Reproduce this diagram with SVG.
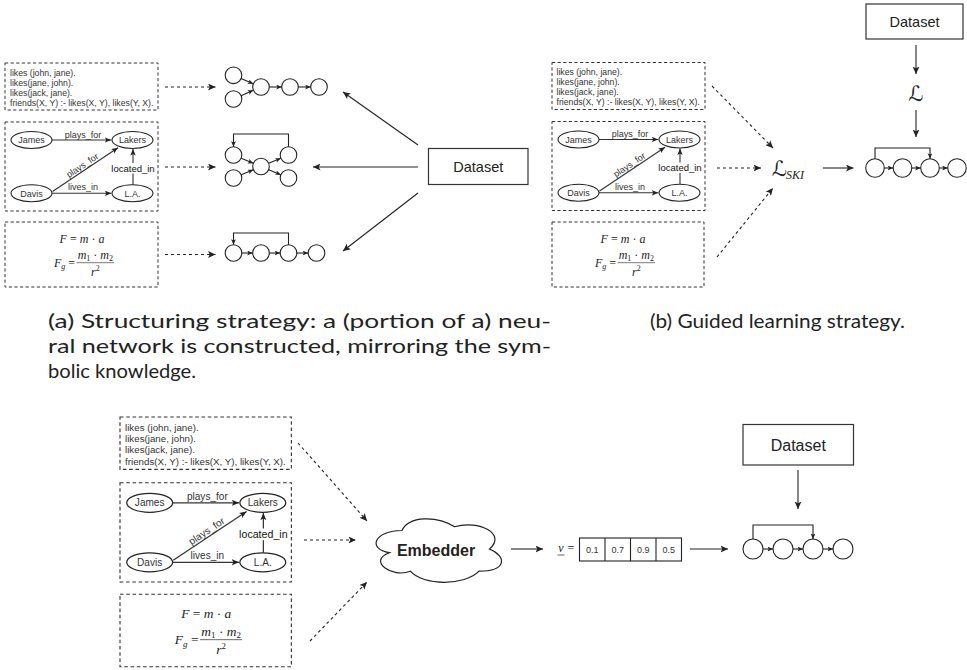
<svg xmlns="http://www.w3.org/2000/svg" width="967" height="670" viewBox="0 0 967 670">
<style>
.box{fill:none;stroke:#333;stroke-width:1;stroke-dasharray:3.2 2.4}
.t{font-family:"Liberation Sans",Arial,sans-serif;font-size:8.7px;fill:#333}
.n{font-family:"Liberation Sans",Arial,sans-serif;font-size:9px;fill:#333;text-anchor:middle}
.ell{fill:#fff;stroke:#222;stroke-width:1.1}
.e{fill:none;stroke:#333;stroke-width:1.1}
.m{font-family:"Liberation Serif","Times New Roman",serif;font-size:12px;fill:#222}
.mid{text-anchor:middle}
.i{font-style:italic}
.nc{fill:#fff;stroke:#222;stroke-width:1.1}
.c{fill:none;stroke:#222;stroke-width:1.1}
.d{fill:none;stroke:#222;stroke-width:1.1;stroke-dasharray:3 3}
.ds{fill:#fff;stroke:#333;stroke-width:1.2}
.dst{font-family:"Liberation Sans",Arial,sans-serif;font-size:14.5px;text-anchor:middle;fill:#222}
.cap{font-family:"Linux Biolinum O","Linux Biolinum",Lato,sans-serif;font-size:20px;fill:#222}
.cal{font-family:"DejaVu Serif","DejaVu Sans",serif;fill:#222}
.vec{font-family:"Liberation Sans",Arial,sans-serif;font-size:9px;fill:#333;text-anchor:middle}
</style>
<defs>
<marker id="ah" markerUnits="userSpaceOnUse" markerWidth="8" markerHeight="7" refX="7.5" refY="3.5" orient="auto"><path d="M0,0 L7.5,3.5 L0,7 L1.8,3.5 z" fill="#222"/></marker>
<marker id="as" markerUnits="userSpaceOnUse" markerWidth="6" markerHeight="5" refX="5.5" refY="2.4" orient="auto"><path d="M0,0 L5.5,2.4 L0,4.8 L1.3,2.4 z" fill="#222"/></marker>
<marker id="ak" markerUnits="userSpaceOnUse" markerWidth="7" markerHeight="6" refX="6.5" refY="2.7" orient="auto"><path d="M0,0 L6.5,2.7 L0,5.4 L1.5,2.7 z" fill="#222"/></marker>
</defs>
<rect width="967" height="670" fill="#fff"/>

<!-- ===== Panel (a) knowledge boxes ===== -->
<g id="a-logic" transform="translate(5,63)">
 <rect class="box" x="0" y="0" width="153" height="47"/>
 <text class="t" x="5" y="12.5">likes (john, jane).</text>
 <text class="t" x="5" y="22.6">likes(jane, john).</text>
 <text class="t" x="5" y="32.7">likes(jack, jane).</text>
 <text class="t" x="5" y="42.8">friends(X, Y) :- likes(X, Y), likes(Y, X).</text>
</g>
<g id="a-kg" transform="translate(5,122)">
 <rect class="box" x="0" y="0" width="153" height="89"/>
 <path class="e" d="M47,18 H106.3" marker-end="url(#ak)"/>
 <path class="e" d="M47.5,69.5 L113,25.7" marker-end="url(#ak)"/>
 <path class="e" d="M47,71.3 H106.3" marker-end="url(#ak)"/>
 <path class="e" d="M128,62.8 V27" marker-end="url(#ak)"/>
 <rect x="105" y="41" width="46" height="10.5" fill="#fff"/>
 <text class="n" x="128" y="49.5" style="font-size:9.5px;fill:#111">located_in</text>
 <text class="n" x="78" y="15.5">plays_for</text>
 <text class="n" transform="translate(79.1,45.9) rotate(-33.8)">plays_for</text>
 <text class="n" x="78" y="68.3">lives_in</text>
 <g id="a-kg-james"><ellipse class="ell" cx="26.5" cy="18" rx="20.5" ry="8.5"/><text class="n" x="26.5" y="21.2">James</text></g>
 <g id="a-kg-lakers"><ellipse class="ell" cx="127.5" cy="18" rx="20.5" ry="8.5"/><text class="n" x="127.5" y="21.2">Lakers</text></g>
 <g id="a-kg-davis"><ellipse class="ell" cx="26.5" cy="71.3" rx="20.5" ry="8.5"/><text class="n" x="26.5" y="74.5">Davis</text></g>
 <g id="a-kg-la"><ellipse class="ell" cx="127.5" cy="71.3" rx="20.5" ry="8.5"/><text class="n" x="127.5" y="74.5">L.A.</text></g>
</g>
<g id="a-phys" transform="translate(5,222)">
 <rect class="box" x="0" y="0" width="153" height="65"/>
 <text class="m mid" x="77" y="21" font-size="13"><tspan class="i">F</tspan> = <tspan class="i">m</tspan> · <tspan class="i">a</tspan></text>
 <text class="m" x="49" y="44.5"><tspan class="i">F</tspan><tspan class="i" font-size="8" dy="2.5">g</tspan><tspan dy="-2.5"> =</tspan></text>
 <line x1="71.5" y1="40.7" x2="109" y2="40.7" stroke="#222" stroke-width="0.6"/>
 <text class="m mid" x="90.3" y="37"><tspan class="i">m</tspan><tspan font-size="8" dy="2">1</tspan><tspan dy="-2"> · </tspan><tspan class="i">m</tspan><tspan font-size="8" dy="2">2</tspan></text>
 <text class="m mid" x="90.3" y="54"><tspan class="i">r</tspan><tspan font-size="8" dy="-5">2</tspan></text>
</g>

<!-- Panel (a) networks -->
<g id="a-net1">
 <circle class="nc" cx="233.5" cy="75.3" r="8.3"/><circle class="nc" cx="233.5" cy="99" r="8.3"/>
 <circle class="nc" cx="261" cy="87" r="8.3"/><circle class="nc" cx="290" cy="87" r="8.3"/><circle class="nc" cx="319" cy="87" r="8.3"/>
</g>
<g id="a-net2">
 <circle class="nc" cx="233.5" cy="155" r="8.3"/><circle class="nc" cx="233.5" cy="178" r="8.3"/>
 <circle class="nc" cx="261" cy="166.5" r="8.3"/><circle class="nc" cx="288.5" cy="155" r="8.3"/><circle class="nc" cx="288.5" cy="178" r="8.3"/>
</g>
<g id="a-net3">
 <circle class="nc" cx="233.5" cy="253" r="8.3"/><circle class="nc" cx="261" cy="253" r="8.3"/>
 <circle class="nc" cx="288.5" cy="253" r="8.3"/><circle class="nc" cx="316.5" cy="253" r="8.3"/>
</g>
<g id="a-dataset">
 <rect class="ds" x="428.5" y="148.5" width="99.5" height="36"/>
 <text class="dst" x="478.3" y="171.5">Dataset</text>
</g>

<!-- ===== Panel (b) knowledge boxes ===== -->
<g transform="translate(547,-0.5)">
<g id="b-logic" transform="translate(5,63)">
 <rect class="box" x="0" y="0" width="153" height="47"/>
 <text class="t" x="4.5" y="12.5">likes (john, jane).</text>
 <text class="t" x="4.5" y="22.6">likes(jane, john).</text>
 <text class="t" x="4.5" y="32.7">likes(jack, jane).</text>
 <text class="t" x="4.5" y="42.8">friends(X, Y) :- likes(X, Y), likes(Y, X).</text>
</g>
<g id="b-kg" transform="translate(5,122)">
 <rect class="box" x="0" y="0" width="153" height="89"/>
 <path class="e" d="M47,18 H106.3" marker-end="url(#ak)"/>
 <path class="e" d="M47.5,69.5 L113,25.7" marker-end="url(#ak)"/>
 <path class="e" d="M47,71.3 H106.3" marker-end="url(#ak)"/>
 <path class="e" d="M128,62.8 V27" marker-end="url(#ak)"/>
 <rect x="105" y="41" width="46" height="10.5" fill="#fff"/>
 <text class="n" x="128" y="49.5" style="font-size:9.5px;fill:#111">located_in</text>
 <text class="n" x="78" y="15.5">plays_for</text>
 <text class="n" transform="translate(79.1,45.9) rotate(-33.8)">plays_for</text>
 <text class="n" x="78" y="68.3">lives_in</text>
 <g id="b-kg-james"><ellipse class="ell" cx="26.5" cy="18" rx="20.5" ry="8.5"/><text class="n" x="26.5" y="21.2">James</text></g>
 <g id="b-kg-lakers"><ellipse class="ell" cx="127.5" cy="18" rx="20.5" ry="8.5"/><text class="n" x="127.5" y="21.2">Lakers</text></g>
 <g id="b-kg-davis"><ellipse class="ell" cx="26.5" cy="71.3" rx="20.5" ry="8.5"/><text class="n" x="26.5" y="74.5">Davis</text></g>
 <g id="b-kg-la"><ellipse class="ell" cx="127.5" cy="71.3" rx="20.5" ry="8.5"/><text class="n" x="127.5" y="74.5">L.A.</text></g>
</g>
<g id="b-phys" transform="translate(5,222.5)">
 <rect class="box" x="0" y="0" width="152" height="65"/>
 <g transform="translate(-6,0)">
 <text class="m mid" x="77" y="21" font-size="13"><tspan class="i">F</tspan> = <tspan class="i">m</tspan> · <tspan class="i">a</tspan></text>
 <text class="m" x="49" y="44.5"><tspan class="i">F</tspan><tspan class="i" font-size="8" dy="2.5">g</tspan><tspan dy="-2.5"> =</tspan></text>
 <line x1="71.5" y1="40.7" x2="109" y2="40.7" stroke="#222" stroke-width="0.6"/>
 <text class="m mid" x="90.3" y="37"><tspan class="i">m</tspan><tspan font-size="8" dy="2">1</tspan><tspan dy="-2"> · </tspan><tspan class="i">m</tspan><tspan font-size="8" dy="2">2</tspan></text>
 <text class="m mid" x="90.3" y="54"><tspan class="i">r</tspan><tspan font-size="8" dy="-5">2</tspan></text>
 </g>
</g>
</g>

<g id="b-lski">
 <text class="cal" x="772" y="176" font-size="21">ℒ</text>
 <text class="m i" x="786" y="178.5" font-size="15">SKI</text>
</g>
<g id="b-dataset">
 <rect class="ds" x="866" y="4" width="97" height="35"/>
 <text class="dst" x="914.5" y="26.8">Dataset</text>
</g>
<g id="b-loss">
 <text class="cal mid" x="916" y="101" font-size="21" text-anchor="middle">ℒ</text>
</g>
<g id="b-net">
 <circle class="nc" cx="875" cy="168" r="9.3"/><circle class="nc" cx="902.5" cy="168" r="9.3"/>
 <circle class="nc" cx="930" cy="168" r="9.3"/><circle class="nc" cx="957" cy="168" r="9.3"/>
</g>

<!-- ===== Panel (c) knowledge boxes ===== -->
<g transform="translate(120,417) scale(1.12,1.115) translate(-5,-63)">
<g id="c-logic" transform="translate(5,63)">
 <rect class="box" x="0" y="0" width="153" height="47"/>
 <text class="t" x="4.5" y="12.5">likes (john, jane).</text>
 <text class="t" x="4.5" y="22.6">likes(jane, john).</text>
 <text class="t" x="4.5" y="32.7">likes(jack, jane).</text>
 <text class="t" x="4.5" y="42.8">friends(X, Y) :- likes(X, Y), likes(Y, X).</text>
</g>
<g id="c-kg" transform="translate(5,122)">
 <rect class="box" x="0" y="0" width="153" height="89"/>
 <path class="e" d="M47,18 H106.3" marker-end="url(#ak)"/>
 <path class="e" d="M47.5,69.5 L113,25.7" marker-end="url(#ak)"/>
 <path class="e" d="M47,71.3 H106.3" marker-end="url(#ak)"/>
 <path class="e" d="M128,62.8 V27" marker-end="url(#ak)"/>
 <rect x="105" y="41" width="46" height="10.5" fill="#fff"/>
 <text class="n" x="128" y="49.5" style="font-size:9.5px;fill:#111">located_in</text>
 <text class="n" x="78" y="15.5">plays_for</text>
 <text class="n" transform="translate(79.1,45.9) rotate(-33.8)">plays_for</text>
 <text class="n" x="78" y="68.3">lives_in</text>
 <g id="c-kg-james"><ellipse class="ell" cx="26.5" cy="18" rx="20.5" ry="8.5"/><text class="n" x="26.5" y="21.2">James</text></g>
 <g id="c-kg-lakers"><ellipse class="ell" cx="127.5" cy="18" rx="20.5" ry="8.5"/><text class="n" x="127.5" y="21.2">Lakers</text></g>
 <g id="c-kg-davis"><ellipse class="ell" cx="26.5" cy="71.3" rx="20.5" ry="8.5"/><text class="n" x="26.5" y="74.5">Davis</text></g>
 <g id="c-kg-la"><ellipse class="ell" cx="127.5" cy="71.3" rx="20.5" ry="8.5"/><text class="n" x="127.5" y="74.5">L.A.</text></g>
</g>
<g id="c-phys" transform="translate(5,222)">
 <rect class="box" x="0" y="0" width="153" height="65"/>
 <text class="m mid" x="77" y="21" font-size="13"><tspan class="i">F</tspan> = <tspan class="i">m</tspan> · <tspan class="i">a</tspan></text>
 <text class="m" x="49" y="44.5"><tspan class="i">F</tspan><tspan class="i" font-size="8" dy="2.5">g</tspan><tspan dy="-2.5"> =</tspan></text>
 <line x1="71.5" y1="40.7" x2="109" y2="40.7" stroke="#222" stroke-width="0.6"/>
 <text class="m mid" x="90.3" y="37"><tspan class="i">m</tspan><tspan font-size="8" dy="2">1</tspan><tspan dy="-2"> · </tspan><tspan class="i">m</tspan><tspan font-size="8" dy="2">2</tspan></text>
 <text class="m mid" x="90.3" y="54"><tspan class="i">r</tspan><tspan font-size="8" dy="-5">2</tspan></text>
</g>
</g>

<g id="c-embedder">
 <path d="M402,530.5 C374,530.5 367,549 389.4,552.7 C367,560.8 392.2,578.6 410.4,571.2 C423,586 465,586 479,571.2 C507,571.2 507,556.4 489.5,549 C507,534.2 479,519.4 454.5,526.8 C437,515.7 409,515.7 402,530.5 Z" fill="#fff" stroke="#222" stroke-width="1.2"/>
 <text x="436" y="555.5" font-family="Liberation Sans, Arial, sans-serif" font-size="16" font-weight="bold" fill="#222" text-anchor="middle">Embedder</text>
</g>
<g id="c-vector">
 <text class="m i mid" x="561" y="552">v</text>
 <line x1="557.5" y1="555" x2="564.5" y2="555" stroke="#222" stroke-width="0.7"/>
 <text class="m mid" x="571" y="552">=</text>
 <rect x="579.5" y="538" width="102" height="23" fill="#fff" stroke="#222" stroke-width="1.1"/>
 <line x1="605" y1="538" x2="605" y2="561" stroke="#222" stroke-width="1.1"/>
 <line x1="630.5" y1="538" x2="630.5" y2="561" stroke="#222" stroke-width="1.1"/>
 <line x1="656" y1="538" x2="656" y2="561" stroke="#222" stroke-width="1.1"/>
 <text class="vec" x="592.3" y="552.5">0.1</text>
 <text class="vec" x="617.8" y="552.5">0.7</text>
 <text class="vec" x="643.3" y="552.5">0.9</text>
 <text class="vec" x="668.8" y="552.5">0.5</text>
</g>
<g id="c-dataset">
 <rect class="ds" x="743" y="424.5" width="110.5" height="40.5"/>
 <text class="dst" x="798.3" y="450.5" style="font-size:16px">Dataset</text>
</g>
<g id="c-net">
 <circle class="nc" cx="753" cy="549" r="10"/><circle class="nc" cx="783" cy="549" r="10"/>
 <circle class="nc" cx="813" cy="549" r="10"/><circle class="nc" cx="843" cy="549" r="10"/>
</g>

<!-- ===== Connectors ===== -->
<g id="connectors">
 <!-- (a) -->
 <path class="d" d="M165,87 H215.5" marker-end="url(#ah)"/>
 <path class="d" d="M165,167 H215.5" marker-end="url(#ah)"/>
 <path class="d" d="M165,254.5 H215.5" marker-end="url(#ah)"/>
 <path class="c" d="M418,145 L343,92" marker-end="url(#ah)"/>
 <path class="c" d="M418,167 L313,167" marker-end="url(#ah)"/>
 <path class="c" d="M418,193 L343,251" marker-end="url(#ah)"/>
 <path class="c" d="M241.1,78.6 L253.3,83.7" marker-end="url(#as)"/>
 <path class="c" d="M241.1,95.7 L253.3,90.3" marker-end="url(#as)"/>
 <path class="c" d="M269.3,87 H281.7" marker-end="url(#as)"/>
 <path class="c" d="M298.3,87 H310.7" marker-end="url(#as)"/>
 <path class="c" d="M241.2,158.2 L253.3,163.3" marker-end="url(#as)"/>
 <path class="c" d="M241.2,174.8 L253.3,169.7" marker-end="url(#as)"/>
 <path class="c" d="M268.7,163.3 L280.8,158.2" marker-end="url(#as)"/>
 <path class="c" d="M268.7,169.7 L280.8,174.8" marker-end="url(#as)"/>
 <path class="c" d="M288.5,146.7 V134 H233.5 V146.7" marker-end="url(#as)"/>
 <path class="c" d="M241.8,253 H252.7" marker-end="url(#as)"/>
 <path class="c" d="M269.3,253 H280.2" marker-end="url(#as)"/>
 <path class="c" d="M296.8,253 H308.2" marker-end="url(#as)"/>
 <path class="c" d="M288.5,244.7 V233 H233.5 V244.7" marker-end="url(#as)"/>
 <!-- (b) -->
 <path class="d" d="M712,86 L773,148" marker-end="url(#ah)"/>
 <path class="d" d="M717,168 H761" marker-end="url(#ah)"/>
 <path class="d" d="M717,257 L773,188" marker-end="url(#ah)"/>
 <path class="c" d="M823,168 H853.5" marker-end="url(#ah)"/>
 <path class="c" d="M916,45 V74" marker-end="url(#ah)"/>
 <path class="c" d="M916,110 V137" marker-end="url(#ah)"/>
 <path class="c" d="M884.3,168 H893.2" marker-end="url(#as)"/>
 <path class="c" d="M911.8,168 H920.7" marker-end="url(#as)"/>
 <path class="c" d="M939.3,168 H947.7" marker-end="url(#as)"/>
 <path class="c" d="M875,158.7 V148 H930 V158.7" marker-end="url(#as)"/>
 <!-- (c) -->
 <path class="d" d="M298,443 L367,521" marker-end="url(#ah)"/>
 <path class="d" d="M304,540 H356" marker-end="url(#ah)"/>
 <path class="d" d="M310,641 L367,582" marker-end="url(#ah)"/>
 <path class="c" d="M511,549 H543" marker-end="url(#ah)"/>
 <path class="c" d="M690,549 H728" marker-end="url(#ah)"/>
 <path class="c" d="M798,470 V509" marker-end="url(#ah)"/>
 <path class="c" d="M763,549 H773" marker-end="url(#as)"/>
 <path class="c" d="M793,549 H803" marker-end="url(#as)"/>
 <path class="c" d="M823,549 H833" marker-end="url(#as)"/>
 <path class="c" d="M753,539 V525 H813 V539" marker-end="url(#as)"/>
</g>

<!-- Captions -->
<g id="captions">
 <text class="cap" x="48" y="328" textLength="503" lengthAdjust="spacingAndGlyphs">(a) Structuring strategy: a (portion of a) neu-</text>
 <text class="cap" x="48" y="353" textLength="503" lengthAdjust="spacingAndGlyphs">ral network is constructed, mirroring the sym-</text>
 <text class="cap" x="48" y="378" textLength="148" lengthAdjust="spacingAndGlyphs">bolic knowledge.</text>
 <text class="cap" x="650" y="328" textLength="255" lengthAdjust="spacingAndGlyphs">(b) Guided learning strategy.</text>
</g>
</svg>
